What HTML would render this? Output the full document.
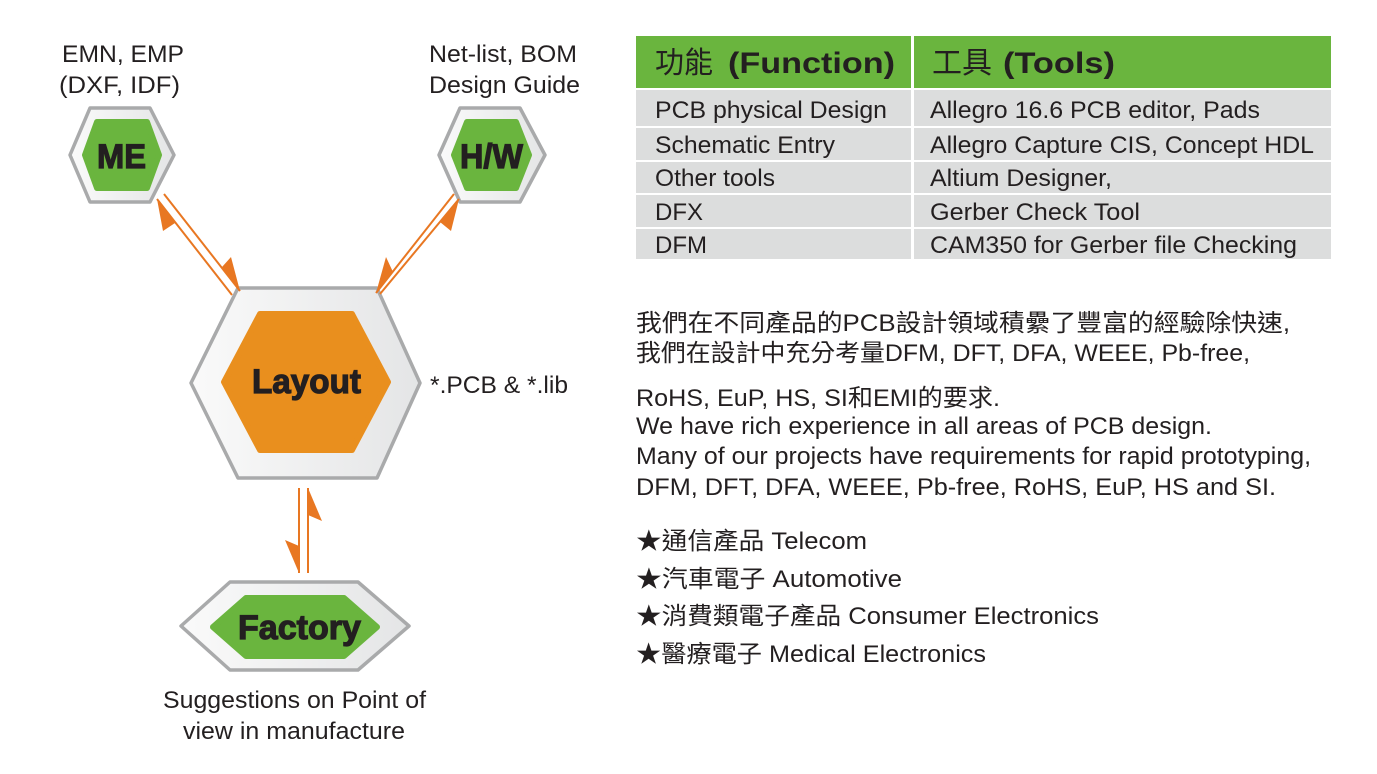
<!DOCTYPE html>
<html><head><meta charset="utf-8"><style>
html,body{margin:0;padding:0;background:#fff}
svg{display:block}
text{font-family:"Liberation Sans","Noto Sans CJK TC",sans-serif;fill:#231f20}
.b{font-weight:bold;stroke:#231f20;stroke-width:1.2}
</style></head><body>
<svg width="1377" height="774" viewBox="0 0 1377 774" xmlns="http://www.w3.org/2000/svg">
<defs>
<linearGradient id="g" x1="0" y1="0" x2="1" y2="0"><stop offset="0" stop-color="#fafafa"/><stop offset="1" stop-color="#e4e5e6"/></linearGradient>
</defs>
<g stroke="#a9aaab" stroke-width="3.5" stroke-linejoin="round" fill="url(#g)">
<polygon points="70,155 90,108 150,108 174,155 150,202 90,202"/>
<polygon points="439,155 460,108 520,108 545,155 520,202 460,202"/>
<polygon points="191,383 238,288 377,288 420,383 377,478 238,478"/>
<polygon points="181,626 230,582 358,582 409,626 358,670 230,670"/>
</g>
<g stroke-linejoin="round" stroke-width="6">
<polygon points="85,155 97,122 147,122 159,155 147,188 97,188" fill="#6ab53e" stroke="#6ab53e"/>
<polygon points="454,155 467,122 516,122 529,155 516,188 467,188" fill="#6ab53e" stroke="#6ab53e"/>
<polygon points="224,382 260,314 352,314 388,382 352,450 260,450" fill="#e98f1e" stroke="#e98f1e"/>
<polygon points="213,627 246,598 344,598 377,627 344,656 246,656" fill="#6ab53e" stroke="#6ab53e"/>
</g>
<g stroke="#e87722" stroke-width="2">
<line x1="157" y1="199" x2="232" y2="295"/>
<line x1="164" y1="194" x2="240" y2="291"/>
<line x1="454" y1="194" x2="376" y2="293"/>
<line x1="459" y1="199" x2="380" y2="294"/>
<line x1="299" y1="488" x2="299" y2="573"/>
<line x1="308" y1="488" x2="308" y2="573"/>
</g>
<g fill="#e87722">
<polygon points="157,199 175,223 163,231"/>
<polygon points="240,291 222,267 231,257"/>
<polygon points="376,293 393,272 386,257"/>
<polygon points="459,199 440,222 451,231"/>
<polygon points="308,488 308,515 322,521"/>
<polygon points="299,573 299,546 285,540"/>
</g>
<text class="b" x="97" y="168" font-size="34" textLength="49" lengthAdjust="spacingAndGlyphs">ME</text>
<text class="b" x="460" y="168" font-size="34" textLength="63" lengthAdjust="spacingAndGlyphs">H/W</text>
<text class="b" x="252" y="393" font-size="34" textLength="109" lengthAdjust="spacingAndGlyphs">Layout</text>
<text class="b" x="238" y="639" font-size="34" textLength="123" lengthAdjust="spacingAndGlyphs">Factory</text>
<g font-size="24">
<text x="62" y="62" textLength="122" lengthAdjust="spacingAndGlyphs">EMN, EMP</text>
<text x="59" y="93" textLength="121" lengthAdjust="spacingAndGlyphs">(DXF, IDF)</text>
<text x="429" y="62" textLength="148" lengthAdjust="spacingAndGlyphs">Net-list, BOM</text>
<text x="429" y="93" textLength="151" lengthAdjust="spacingAndGlyphs">Design Guide</text>
<text x="430" y="393" textLength="138" lengthAdjust="spacingAndGlyphs">*.PCB &amp; *.lib</text>
<text x="163" y="708" textLength="263" lengthAdjust="spacingAndGlyphs">Suggestions on Point of</text>
<text x="183" y="739" textLength="222" lengthAdjust="spacingAndGlyphs">view in manufacture</text>
</g>
<rect x="636" y="36" width="695" height="52" fill="#6ab53e"/>
<g fill="#dcdddd">
<rect x="636" y="90" width="695" height="36"/>
<rect x="636" y="128" width="695" height="32"/>
<rect x="636" y="162" width="695" height="31"/>
<rect x="636" y="195" width="695" height="32"/>
<rect x="636" y="229" width="695" height="30"/>
</g>
<rect x="911" y="36" width="3" height="223" fill="#fff"/>
<text x="655" y="73" font-size="30" textLength="58" lengthAdjust="spacingAndGlyphs">功能</text>
<text x="728" y="73" font-size="30" font-weight="bold" textLength="167" lengthAdjust="spacingAndGlyphs">(Function)</text>
<text x="932" y="73" font-size="30" textLength="60" lengthAdjust="spacingAndGlyphs">工具</text>
<text x="1003" y="73" font-size="30" font-weight="bold" textLength="112" lengthAdjust="spacingAndGlyphs">(Tools)</text>
<g font-size="24">
<text x="655" y="118" textLength="232" lengthAdjust="spacingAndGlyphs">PCB physical Design</text>
<text x="930" y="118" textLength="330" lengthAdjust="spacingAndGlyphs">Allegro 16.6 PCB editor, Pads</text>
<text x="655" y="153" textLength="180" lengthAdjust="spacingAndGlyphs">Schematic Entry</text>
<text x="930" y="153" textLength="384" lengthAdjust="spacingAndGlyphs">Allegro Capture CIS, Concept HDL</text>
<text x="655" y="186" textLength="120" lengthAdjust="spacingAndGlyphs">Other tools</text>
<text x="930" y="186" textLength="182" lengthAdjust="spacingAndGlyphs">Altium Designer,</text>
<text x="655" y="220" textLength="48" lengthAdjust="spacingAndGlyphs">DFX</text>
<text x="930" y="220" textLength="210" lengthAdjust="spacingAndGlyphs">Gerber Check Tool</text>
<text x="655" y="253" textLength="52" lengthAdjust="spacingAndGlyphs">DFM</text>
<text x="930" y="253" textLength="367" lengthAdjust="spacingAndGlyphs">CAM350 for Gerber file Checking</text>
<text x="636" y="331" textLength="654" lengthAdjust="spacingAndGlyphs">我們在不同產品的PCB設計領域積纍了豐富的經驗除快速,</text>
<text x="636" y="361" textLength="614" lengthAdjust="spacingAndGlyphs">我們在設計中充分考量DFM, DFT, DFA, WEEE, Pb-free,</text>
<text x="636" y="406" textLength="364" lengthAdjust="spacingAndGlyphs">RoHS, EuP, HS, SI和EMI的要求.</text>
<text x="636" y="434" textLength="576" lengthAdjust="spacingAndGlyphs">We have rich experience in all areas of PCB design.</text>
<text x="636" y="464" textLength="675" lengthAdjust="spacingAndGlyphs">Many of our projects have requirements for rapid prototyping,</text>
<text x="636" y="495" textLength="640" lengthAdjust="spacingAndGlyphs">DFM, DFT, DFA, WEEE, Pb-free, RoHS, EuP, HS and SI.</text>
<text x="636" y="549" textLength="231" lengthAdjust="spacingAndGlyphs">★通信產品 Telecom</text>
<text x="636" y="587" textLength="266" lengthAdjust="spacingAndGlyphs">★汽車電子  Automotive</text>
<text x="636" y="624" textLength="463" lengthAdjust="spacingAndGlyphs">★消費類電子產品 Consumer Electronics</text>
<text x="636" y="662" textLength="350" lengthAdjust="spacingAndGlyphs">★醫療電子 Medical Electronics</text>
</g>
</svg>
</body></html>
